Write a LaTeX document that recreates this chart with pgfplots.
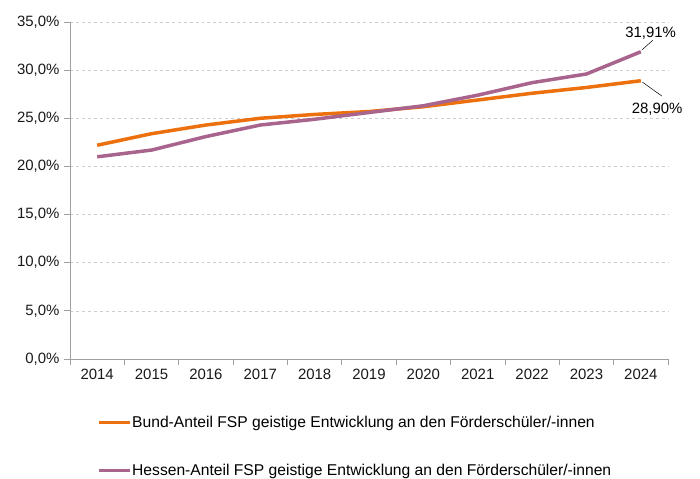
\documentclass[border=0pt]{standalone}
\usepackage{fontspec}
\setmainfont{Liberation Sans}
\usepackage{pgfplots}
\pgfplotsset{compat=1.18}
\definecolor{bundorange}{RGB}{236,112,14}
\definecolor{hessenlila}{RGB}{168,100,140}
\definecolor{achse}{RGB}{160,160,160}
\definecolor{gitter}{RGB}{205,205,205}
\begin{document}
\begin{tikzpicture}[x=1bp,y=1bp]
\begin{axis}[
    at={(0,0)}, anchor=south west,
    width=598bp, height=337bp, scale only axis,
    xmin=-0.5, xmax=10.5, ymin=0, ymax=35,
    axis x line=bottom, axis y line=left,
    axis line style={achse, line width=0.8pt, -},
    xtick={0,...,10},
    xticklabels={2014,2015,2016,2017,2018,2019,2020,2021,2022,2023,2024},
    minor xtick={-0.5,0.5,...,10.5},
    major x tick style={draw=none},
    minor x tick style={achse, line width=0.8pt},
    minor tick length=6bp,
    ytick={0,5,...,35},
    y tick style={achse, line width=0.8pt},
    major tick length=6bp,
    tick align=outside,
    ymajorgrids,
    y grid style={gitter, dashed, line width=0.5pt},
    yticklabel={\pgfmathprintnumber[fixed,fixed zerofill,precision=1,use comma]{\tick}\%},
    /pgf/number format/assume math mode=true,
    tick label style={font=\fontsize{15}{17}\selectfont, text=black!90},
    yticklabel style={xshift=-1bp},
    xticklabel style={yshift=-1bp},
    clip=false,
    legend style={at={(27bp,-57bp)}, anchor=north west, draw=none, fill=none,
        font=\fontsize{15.7}{18}\selectfont, row sep=35bp, inner sep=0pt,
        nodes={inner xsep=0.5bp, inner ysep=0pt}},
    legend cell align=left,
    legend image code/.code={\draw[#1, line width=3.5bp] (0bp,0bp) -- (31bp,0bp);},
]
\addplot[bundorange, line width=3.5bp, line join=round] coordinates {
    (0,22.2) (1,23.4) (2,24.3) (3,25.0) (4,25.4) (5,25.7)
    (6,26.2) (7,26.9) (8,27.6) (9,28.2) (10,28.90)};
\addlegendentry{Bund-Anteil FSP geistige Entwicklung an den Förderschüler/-innen}
\addplot[hessenlila, line width=3.5bp, line join=round] coordinates {
    (0,21.0) (1,21.7) (2,23.1) (3,24.3) (4,24.9) (5,25.6)
    (6,26.3) (7,27.4) (8,28.7) (9,29.6) (10,31.91)};
\addlegendentry{Hessen-Anteil FSP geistige Entwicklung an den Förderschüler/-innen}
\draw[black, line width=0.5pt] (axis cs:10.02,32.1) -- (axis cs:10.22,33.1);
\node[font=\fontsize{15}{17}\selectfont, anchor=south, inner sep=1bp] at (axis cs:10.18,33.1) {31,91\%};
\draw[black, line width=0.5pt] (axis cs:10.03,28.75) -- (axis cs:10.39,27.3);
\node[font=\fontsize{15}{17}\selectfont, anchor=north, inner sep=1bp] at (axis cs:10.3,26.7) {28,90\%};
\end{axis}
\pgfresetboundingbox
\path[use as bounding box] (-70bp,-120bp) rectangle (630bp,359bp);
\end{tikzpicture}
\end{document}
